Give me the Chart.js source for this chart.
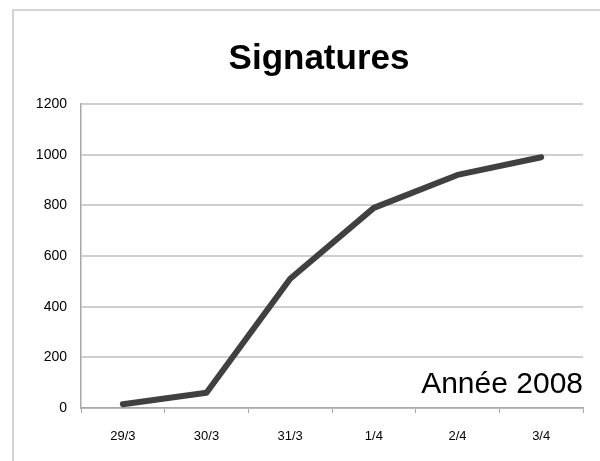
<!DOCTYPE html>
<html>
<head>
<meta charset="utf-8">
<script src="https://cdn.jsdelivr.net/npm/chart.js@4/dist/chart.umd.min.js"></script>
<style>
  html, body { margin: 0; padding: 0; background: #ffffff; }
  #wrap { width: 600px; height: 461px; }
</style>
</head>
<body>
<div id="wrap"><canvas id="chart" width="600" height="461"></canvas></div>
<script>
// Daily signature totals, spring 2008
const categories = ['29/3', '30/3', '31/3', '1/4', '2/4', '3/4'];
const signatures = [15, 60, 510, 790, 920, 990];
const yTicks = [0, 200, 400, 600, 800, 1000, 1200];
const chartTitle = 'Signatures';
const yearNote = 'Année 2008';

const FONT = '"Liberation Sans", Arial, sans-serif';

// Frame along the top and left edges, the title, and the year note inside the plot
const decorations = {
  id: 'decorations',
  beforeDraw(chart) {
    const ctx = chart.ctx;
    ctx.save();
    ctx.fillStyle = '#ffffff';
    ctx.fillRect(0, 0, chart.width, chart.height);
    ctx.strokeStyle = '#d4d4d4';
    ctx.lineWidth = 2;
    ctx.beginPath();
    ctx.moveTo(13, chart.height);
    ctx.lineTo(13, 10);
    ctx.lineTo(chart.width, 10);
    ctx.stroke();

    ctx.fillStyle = '#000000';
    ctx.font = 'bold 35px ' + FONT;
    ctx.textAlign = 'center';
    ctx.textBaseline = 'alphabetic';
    ctx.fillText(chartTitle, 319, 69);
    ctx.restore();
  },
  afterDraw(chart) {
    const ctx = chart.ctx;
    const area = chart.chartArea;
    ctx.save();
    ctx.fillStyle = '#000000';
    ctx.font = '30px ' + FONT;
    ctx.textAlign = 'right';
    ctx.textBaseline = 'alphabetic';
    ctx.fillText(yearNote, area.right, area.bottom - 15);
    ctx.restore();
  }
};

new Chart(document.getElementById('chart'), {
  type: 'line',
  data: {
    labels: categories,
    datasets: [{
      data: signatures,
      borderColor: '#404040',
      borderWidth: 6,
      borderCapStyle: 'round',
      borderJoinStyle: 'round',
      pointRadius: 0,
      tension: 0,
      fill: false
    }]
  },
  options: {
    responsive: false,
    animation: false,
    devicePixelRatio: 1,
    layout: { padding: { top: 104, right: 17, bottom: 0, left: 0 } },
    plugins: {
      legend: { display: false },
      tooltip: { enabled: false },
      title: { display: false }
    },
    scales: {
      x: {
        offset: true,
        grid: { display: true, drawOnChartArea: false, drawTicks: true, tickLength: 5, offset: true, color: '#a8a8a8', lineWidth: 1 },
        border: { display: true, color: '#a8a8a8', width: 1.5 },
        ticks: {
          color: '#000000',
          padding: 16,
          maxRotation: 0,
          font: { family: FONT, size: 13 }
        },
        afterFit(scale) { scale.height = 53; }
      },
      y: {
        min: 0,
        max: 1200,
        afterBuildTicks(scale) { scale.ticks = yTicks.map(v => ({ value: v })); },
        grid: { color: '#cfcfcf', lineWidth: 2, drawTicks: false },
        border: { display: true, color: '#a8a8a8', width: 1.5 },
        ticks: {
          color: '#000000',
          padding: 14,
          font: { family: FONT, size: 14 },
          callback: (value) => String(value)
        },
        afterFit(scale) { scale.width = 81; }
      }
    }
  },
  plugins: [decorations]
});
</script>
</body>
</html>
